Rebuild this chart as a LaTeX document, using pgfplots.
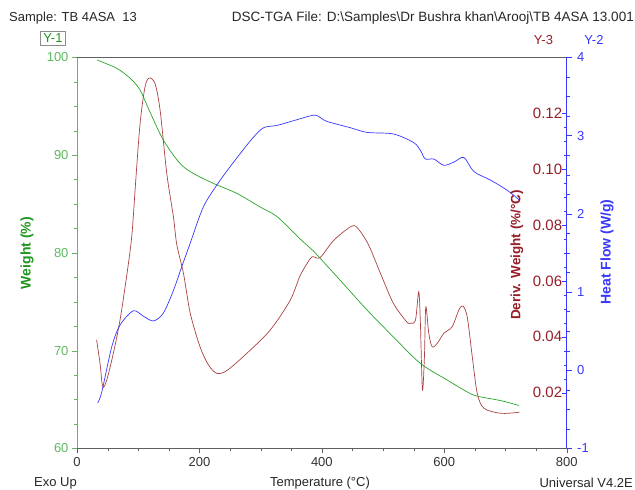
\documentclass[border=0pt]{standalone}
\usepackage{pgfplots}
\pgfplotsset{compat=1.18}
\usepackage{fontspec}
\setmainfont{Liberation Sans}

\definecolor{tgagreen}{RGB}{30,150,30}
\definecolor{tgagreenlt}{RGB}{95,185,95}
\definecolor{tgacurve}{RGB}{40,165,40}
\definecolor{dtglabel}{RGB}{150,30,40}
\definecolor{dtgcurve}{RGB}{170,65,65}
\definecolor{dscblue}{RGB}{55,55,255}
\definecolor{framegray}{RGB}{95,95,95}

% TGA weight loss
\pgfplotstableread{
T W
33 99.72
65 98.87
87 97.85
103 96.65
119 94.44
141 91.54
168 89.16
190 88.13
223 87.10
261 86.09
299 84.70
327 83.70
365 81.40
386 80.20
398 79.40
430 77.20
474 74.15
517 71.40
561 68.70
605 66.99
637 65.80
654 65.35
692 64.90
722 64.40
}\weighttable

% derivative weight
\pgfplotstableread{
T D
32 0.0389
37.6 0.0305
42 0.0221
48.6 0.0245
59.4 0.0341
70.3 0.0460
81.3 0.0620
89.5 0.0760
96 0.0960
103 0.1162
111 0.1293
118 0.1326
127.6 0.1305
135.8 0.1210
146.7 0.0984
157.5 0.0829
163 0.0730
174 0.0626
185 0.0484
201 0.0364
214.8 0.0299
228.5 0.0269
244.9 0.0279
277.6 0.0341
315.7 0.0424
348.4 0.0531
364.8 0.0620
381.2 0.0680
386.5 0.0686
397.5 0.0684
419.4 0.0745
446.6 0.0793
457.5 0.0791
476 0.0730
497 0.0620
517 0.0519
538 0.0455
545 0.0448
553 0.0460
558.3 0.0561
561 0.0448
564.3 0.0210
567.6 0.0329
569.8 0.0507
574.7 0.0412
580.2 0.0364
588.4 0.0376
599.2 0.0412
612.9 0.0436
623.7 0.0495
630.3 0.0510
637.5 0.0471
645.7 0.0329
653.8 0.0198
664.8 0.0144
692 0.0126
719.3 0.0129
722 0.0131
}\derivtable

% heat flow
\pgfplotstableread{
T H
33.8 -0.417
40.4 -0.28
56.8 0.30
70.3 0.577
92 0.76
108.5 0.69
124.8 0.63
141 0.73
157.5 1.02
171 1.32
184.8 1.62
206.6 2.09
234 2.43
266.7 2.77
288.4 2.98
304.8 3.10
327 3.13
353.8 3.19
386.5 3.26
397.5 3.23
408.5 3.18
446.6 3.10
474 3.04
517 3.02
550 2.91
561 2.81
569 2.70
582.9 2.70
599.2 2.62
615.6 2.66
632 2.72
648.3 2.54
675.6 2.43
703 2.30
722 2.18
}\heattable

\pgfplotsset{
  tgaframe/.style={
    width=489.7pt, height=391.2pt, scale only axis,
    at={(77pt,41.5pt)}, anchor=south west,
    xmin=0, xmax=800,
    major tick length=5pt, minor tick length=3pt,
    /pgf/number format/assume math mode=true,
    every tick label/.append style={font=\fontsize{13}{15}\selectfont},
    clip=false,
  }
}

\begin{document}
\begin{tikzpicture}[x=1pt,y=1pt]
\path[use as bounding box] (0,0) rectangle (635,490);

% weight axis (left) with the temperature scale
\begin{axis}[tgaframe,
  ymin=60, ymax=100,
  axis x line*=bottom, axis y line*=left,
  x axis line style={framegray, line width=0.8pt, -},
  y axis line style={tgagreenlt, line width=0.8pt, -},
  xtick={0,200,400,600,800}, minor x tick num=3,
  ytick={60,70,80,90,100}, minor y tick num=3,
  tick align=outside,
  x tick style={framegray},
  y tick style={tgagreenlt},
  xticklabel style={text=black!80},
  yticklabel style={text=tgagreenlt},
]
\draw[framegray, line width=0.8pt] (rel axis cs:0,1) -- (rel axis cs:1,1);
\addplot[tgacurve, line width=0.7pt, smooth] table[x=T, y=W] {\weighttable};
\end{axis}

% derivative weight axis (labels inside the frame)
\begin{axis}[tgaframe,
  ymin=0, ymax=0.14,
  hide x axis,
  axis y line*=right,
  y axis line style={draw=none},
  ytick={0.02,0.04,0.06,0.08,0.10,0.12}, minor y tick num=3,
  tick align=inside,
  y tick style={dscblue},
  yticklabel style={text=dtglabel, anchor=east, xshift=-1pt,
    font=\fontsize{15}{17}\selectfont,
    /pgf/number format/fixed, /pgf/number format/fixed zerofill,
    /pgf/number format/precision=2},
  scaled y ticks=false,
]
\addplot[dtgcurve, line width=0.7pt, smooth, tension=0.5] table[x=T, y=D] {\derivtable};
\end{axis}

% heat flow axis (right)
\begin{axis}[tgaframe,
  ymin=-1, ymax=4,
  hide x axis,
  axis y line*=right,
  y axis line style={dscblue, line width=0.8pt, -},
  ytick={-1,0,1,2,3,4}, minor y tick num=3,
  tick align=outside,
  y tick style={dscblue},
  yticklabel style={text=dscblue, xshift=2pt},
]
\addplot[dscblue, line width=0.7pt, smooth] table[x=T, y=H] {\heattable};
\end{axis}

% axis titles
\node[rotate=90, text=tgagreen, font=\fontsize{14}{16}\selectfont\bfseries] at (27,237) {Weight (\%)};
\node[rotate=90, text=dtglabel, font=\fontsize{13.5}{16}\selectfont\bfseries] at (517,235) {Deriv. Weight (\%/°C)};
\node[rotate=90, text=dscblue, font=\fontsize{14}{16}\selectfont\bfseries] at (607,238) {Heat Flow (W/g)};

% header and footer
\begin{scope}[every node/.style={font=\fontsize{13}{15}\selectfont, inner sep=0pt}]
\node[anchor=west, text=black!85] at (9,472) {Sample: TB 4ASA\ \ 13};
\node[anchor=east, text=black!85, font=\fontsize{13.5}{15}\selectfont] at (634,472) {DSC-TGA File: D:\textbackslash Samples\textbackslash Dr Bushra khan\textbackslash Arooj\textbackslash TB 4ASA 13.001};
\node[draw=black!45, text=tgagreen, inner xsep=3pt, inner ysep=2.5pt, line width=0.6pt] at (53,451.5) {Y-1};
\node[text=dtglabel] at (543.5,450) {Y-3};
\node[text=dscblue] at (594,450) {Y-2};
\node[anchor=west, text=black!85] at (34,7) {Exo Up};
\node[text=black!85] at (320,7) {Temperature (°C)};
\node[anchor=east, text=black!85] at (633,7) {Universal V4.2E};
\end{scope}
\end{tikzpicture}
\end{document}
